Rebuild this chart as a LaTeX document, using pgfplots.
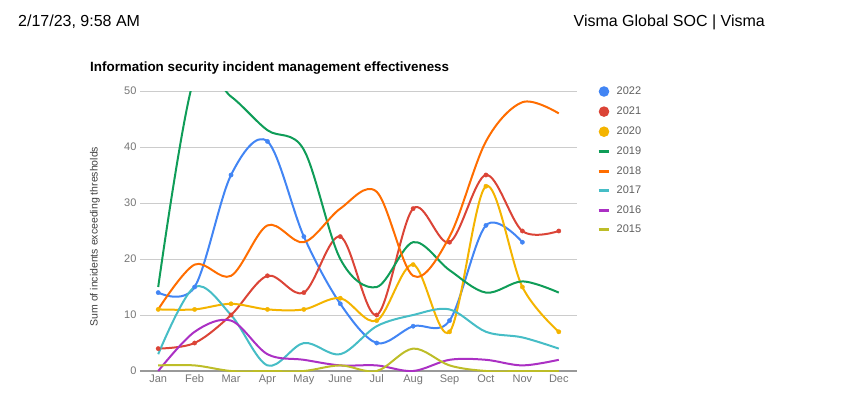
\documentclass[border=0pt]{standalone}
\usepackage{pgfplots}
\pgfplotsset{compat=1.18}
\usepackage{fontspec}
\setmainfont{Liberation Sans}
\definecolor{c22}{HTML}{4285F4}
\definecolor{c21}{HTML}{DB4437}
\definecolor{c20}{HTML}{F4B400}
\definecolor{c19}{HTML}{0F9D58}
\definecolor{c18}{HTML}{FF6D00}
\definecolor{c17}{HTML}{46BDC6}
\definecolor{c16}{HTML}{AB30C4}
\definecolor{c15}{HTML}{BDBD28}
\definecolor{tickgray}{HTML}{757575}
\definecolor{leggray}{HTML}{5F5F5F}
\newcommand{\legdot}[1]{\path[draw=none, fill=none] (0pt,-5pt) rectangle (18pt,5pt); \fill[#1, draw=none] (5.3pt,0pt) circle (5.3pt);}
\newcommand{\legline}[1]{\path[draw=none, fill=none] (0pt,-5pt) rectangle (18pt,5pt); \draw[#1, line width=3pt] (0pt,0pt) -- (10.6pt,0pt);}
\begin{document}
\begin{tikzpicture}
\path[use as bounding box] (0pt,0pt) rectangle (850pt,394pt);
\node[anchor=base west, inner sep=0pt, font=\fontsize{16}{18}\selectfont] at (18pt,367pt) {2/17/23, 9:58 AM};
\node[anchor=base east, inner sep=0pt, font=\fontsize{16}{18}\selectfont] at (765pt,367pt) {Visma Global SOC | Visma};
\node[anchor=base west, inner sep=0pt, font=\fontsize{13.4}{15}\selectfont\bfseries] at (90pt,322pt) {Information security incident management effectiveness};
\begin{axis}[
  at={(140pt,23pt)}, anchor=south west,
  scale only axis, width=437pt, height=280pt,
  xmin=-0.5, xmax=11.5, ymin=0, ymax=50,
  xtick={0,...,11},
  xticklabels={Jan,Feb,Mar,Apr,May,June,Jul,Aug,Sep,Oct,Nov,Dec},
  ytick={0,10,...,50},
  axis line style={draw=none},
  major tick style={draw=none},
  ymajorgrids, grid style={color=black!20, line width=0.8pt},
  /pgf/number format/assume math mode=true,
  ticklabel style={font=\fontsize{11}{13}\selectfont, text=tickgray},
  ylabel={Sum of incidents exceeding thresholds},
  ylabel style={at={(axis description cs:-0.103,0.48)}, anchor=center, font=\fontsize{10.5}{12}\selectfont, text=black!75},
  legend style={at={(axis description cs:1,1)}, anchor=north west, xshift=20pt, yshift=5pt,
    draw=none, fill=none, inner sep=0pt, row sep=9.5pt,
    font=\fontsize{11}{13}\selectfont, text=leggray,
    nodes={inner sep=0pt, text height=8pt, text depth=2pt}},
  legend cell align=left,
  every axis plot/.append style={line width=2pt, smooth, tension=0.55},
]
\draw[black!40, line width=2pt] (axis cs:-0.5,0) -- (axis cs:11.5,0);
\addplot[c22, mark=*, mark size=2.2pt, mark options={line width=0.3pt}, legend image code/.code={\legdot{c22}}]
  coordinates {(0,14)(1,15)(2,35)(3,41)(4,24)(5,12)(6,5)(7,8)(8,9)(9,26)(10,23)};
\addlegendentry{2022}
\addplot[c21, mark=*, mark size=2.2pt, mark options={line width=0.3pt}, legend image code/.code={\legdot{c21}}]
  coordinates {(0,4)(1,5)(2,10)(3,17)(4,14)(5,24)(6,10)(7,29)(8,23)(9,35)(10,25)(11,25)};
\addlegendentry{2021}
\addplot[c20, mark=*, mark size=2.2pt, mark options={line width=0.3pt}, legend image code/.code={\legdot{c20}}]
  coordinates {(0,11)(1,11)(2,12)(3,11)(4,11)(5,13)(6,9)(7,19)(8,7)(9,33)(10,15)(11,7)};
\addlegendentry{2020}
\addplot[c19, legend image code/.code={\legline{c19}}]
  coordinates {(0,15)(1,52.5)(2,49)(3,43)(4,39.5)(5,20)(6,15)(7,23)(8,18)(9,14)(10,16)(11,14)};
\addlegendentry{2019}
\addplot[c18, legend image code/.code={\legline{c18}}]
  coordinates {(0,11)(1,19)(2,17)(3,26)(4,23)(5,29)(6,32)(7,17)(8,24)(9,41)(10,48)(11,46)};
\addlegendentry{2018}
\addplot[c17, legend image code/.code={\legline{c17}}]
  coordinates {(0,3)(1,15)(2,10)(3,1)(4,5)(5,3)(6,8)(7,10)(8,11)(9,7)(10,6)(11,4)};
\addlegendentry{2017}
\addplot[c16, legend image code/.code={\legline{c16}}]
  coordinates {(0,0)(1,7)(2,9)(3,3)(4,2)(5,1)(6,1)(7,0)(8,2)(9,2)(10,1)(11,2)};
\addlegendentry{2016}
\addplot[c15, legend image code/.code={\legline{c15}}]
  coordinates {(0,1)(1,1)(2,0)(3,0)(4,0)(5,1)(6,0)(7,4)(8,1)(9,0)(10,0)(11,0)};
\addlegendentry{2015}
\end{axis}
\end{tikzpicture}
\end{document}
